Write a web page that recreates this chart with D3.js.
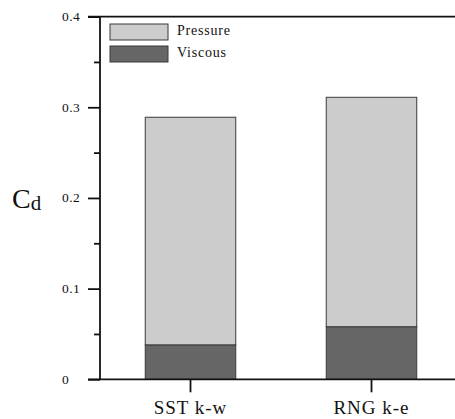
<!DOCTYPE html>
<html>
<head>
<meta charset="utf-8">
<script src="https://cdn.jsdelivr.net/npm/d3@7"></script>
<style>
  html, body { margin: 0; padding: 0; background: #fff; }
  svg { display: block; }
</style>
</head>
<body>
<svg id="chart" width="455" height="419" font-family="'Liberation Serif', 'Times New Roman', serif"></svg>
<script>
// drag coefficient split per turbulence model
const models   = ['SST k-w', 'RNG k-e'];
const viscous  = [0.038, 0.058];
const pressure = [0.251, 0.253];
const yTicks   = [0, 0.1, 0.2, 0.3, 0.4];
const yMinor   = [0.05, 0.15, 0.25, 0.35];
const series   = ['Viscous', 'Pressure'];

const COLOR = { Viscous: '#666666', Pressure: '#cccccc' };
const FONT  = "'Liberation Serif', 'Times New Roman', serif";

const svg = d3.select('#chart');

const x = d3.scaleBand()
  .domain(models)
  .range([100, 462])
  .paddingInner(0.5)
  .paddingOuter(0.25);

const y = d3.scaleLinear()
  .domain([0, 0.4])
  .range([379.3, 16.6]);

// stacked bars: viscous at bottom, pressure on top
const rows = models.map((m, i) => ({ model: m, Viscous: viscous[i], Pressure: pressure[i] }));
const stack = d3.stack().keys(series)(rows);

svg.append('g')
  .selectAll('g')
  .data(stack)
  .join('g')
  .attr('fill', d => COLOR[d.key])
  .selectAll('rect')
  .data(d => d)
  .join('rect')
  .attr('x', d => x(d.data.model))
  .attr('width', x.bandwidth())
  .attr('y', d => y(d[1]))
  .attr('height', d => y(d[0]) - y(d[1]))
  .attr('stroke', '#3a3a3a')
  .attr('stroke-width', 1);

// left axis: major ticks with labels, minor ticks without
const yAxis = svg.append('g').attr('transform', 'translate(100,0)');
yAxis.call(d3.axisLeft(y).tickValues(yTicks).tickSize(12).tickFormat(''))
  .call(g => g.select('.domain').remove())
  .selectAll('line').attr('stroke', '#111').attr('stroke-width', 1.8);
yAxis.append('g')
  .call(d3.axisLeft(y).tickValues(yMinor).tickSize(6).tickFormat(''))
  .call(g => g.select('.domain').remove())
  .selectAll('line').attr('stroke', '#111').attr('stroke-width', 1.8);

svg.append('g')
  .selectAll('text')
  .data(yTicks)
  .join('text')
  .attr('x', 62)
  .attr('y', d => y(d) + 4.5)
  .attr('font-family', FONT)
  .attr('font-size', 13.5)
  .attr('letter-spacing', 0.4)
  .attr('fill', '#111')
  .text(d => d === 0 ? '0' : d3.format('.1f')(d));

svg.append('line')
  .attr('x1', 100).attr('x2', 100)
  .attr('y1', y(0.4)).attr('y2', y(0))
  .attr('stroke', '#111').attr('stroke-width', 1.8);

// top frame line and bottom axis run off the right edge
[0, 0.4].forEach(v => {
  svg.append('line')
    .attr('x1', 88).attr('x2', 455)
    .attr('y1', y(v)).attr('y2', y(v))
    .attr('stroke', '#111').attr('stroke-width', 1.8);
});

// bottom ticks and category labels
const xAxis = svg.append('g').attr('transform', `translate(0,${y(0)})`);
xAxis.call(d3.axisBottom(x).tickSize(13).tickFormat(''))
  .call(g => g.select('.domain').remove())
  .selectAll('line').attr('stroke', '#111').attr('stroke-width', 1.8);

svg.append('g')
  .selectAll('text')
  .data(models)
  .join('text')
  .attr('x', d => x(d) + x.bandwidth() / 2)
  .attr('y', 414)
  .attr('text-anchor', 'middle')
  .attr('font-family', FONT)
  .attr('font-size', 19)
  .attr('letter-spacing', 1)
  .attr('fill', '#111')
  .text(d => d);

// y label C_d
const ylab = svg.append('text').attr('x', 12).attr('y', 208)
  .attr('font-family', FONT).attr('fill', '#111');
ylab.append('tspan').attr('font-size', 28).text('C');
ylab.append('tspan').attr('font-size', 21).attr('dy', 2).text('d');

// legend
const legendKeys = ['Pressure', 'Viscous'];
const legend = svg.append('g')
  .selectAll('g')
  .data(legendKeys)
  .join('g')
  .attr('transform', (d, i) => `translate(110,${24 + i * 22})`);

legend.append('rect')
  .attr('width', 58).attr('height', 16)
  .attr('fill', d => COLOR[d])
  .attr('stroke', '#3a3a3a')
  .attr('stroke-width', 1);

legend.append('text')
  .attr('x', 67).attr('y', 11)
  .attr('font-family', FONT)
  .attr('font-size', 14)
  .attr('letter-spacing', 0.8)
  .attr('fill', '#111')
  .text(d => d);
</script>
</body>
</html>
